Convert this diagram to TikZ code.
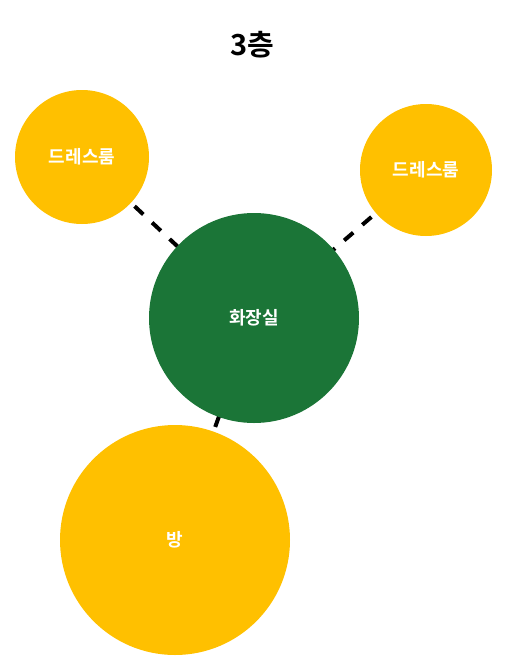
\documentclass[tikz,border=0pt]{standalone}
\usepackage{fontspec}
\setmainfont{Noto Sans CJK KR}[BoldFont={* Bold}]
\usetikzlibrary{backgrounds}
\definecolor{roomyellow}{HTML}{FFC000}
\definecolor{bathgreen}{HTML}{1B7537}

\begin{document}
\begin{tikzpicture}[x=1pt, y=-1pt,
    room/.style={circle, fill=roomyellow, text=white, font=\bfseries\fontsize{18}{20}\selectfont, inner sep=0pt},
    bath/.style={circle, fill=bathgreen, text=white, font=\bfseries\fontsize{18}{20}\selectfont, inner sep=0pt},
    link/.style={line width=4pt, dash pattern=on 12pt off 12pt}]
    \useasboundingbox (0, 0) rectangle (507, 670);

    \node[font=\bfseries\fontsize{29}{32}\selectfont] (title) at (252, 45) {3층};

    % rooms
    \node[room, minimum size=134pt] (dressL) at (82, 157) {드레스룸};
    \node[room, minimum size=132pt] (dressR) at (426, 170) {드레스룸};
    \node[bath, minimum size=210pt] (bath) at (254, 318) {화장실};
    \node[room, minimum size=230pt] (room) at (175, 540) {방};

    % dashed links behind the circles
    \begin{pgfonlayer}{background}
        \draw[link] (dressL.center) -- (bath.center);
        \draw[link] (dressR.center) -- (bath.center);
        \draw[link] (room.center) -- (bath.center);
    \end{pgfonlayer}
\end{tikzpicture}
\end{document}
